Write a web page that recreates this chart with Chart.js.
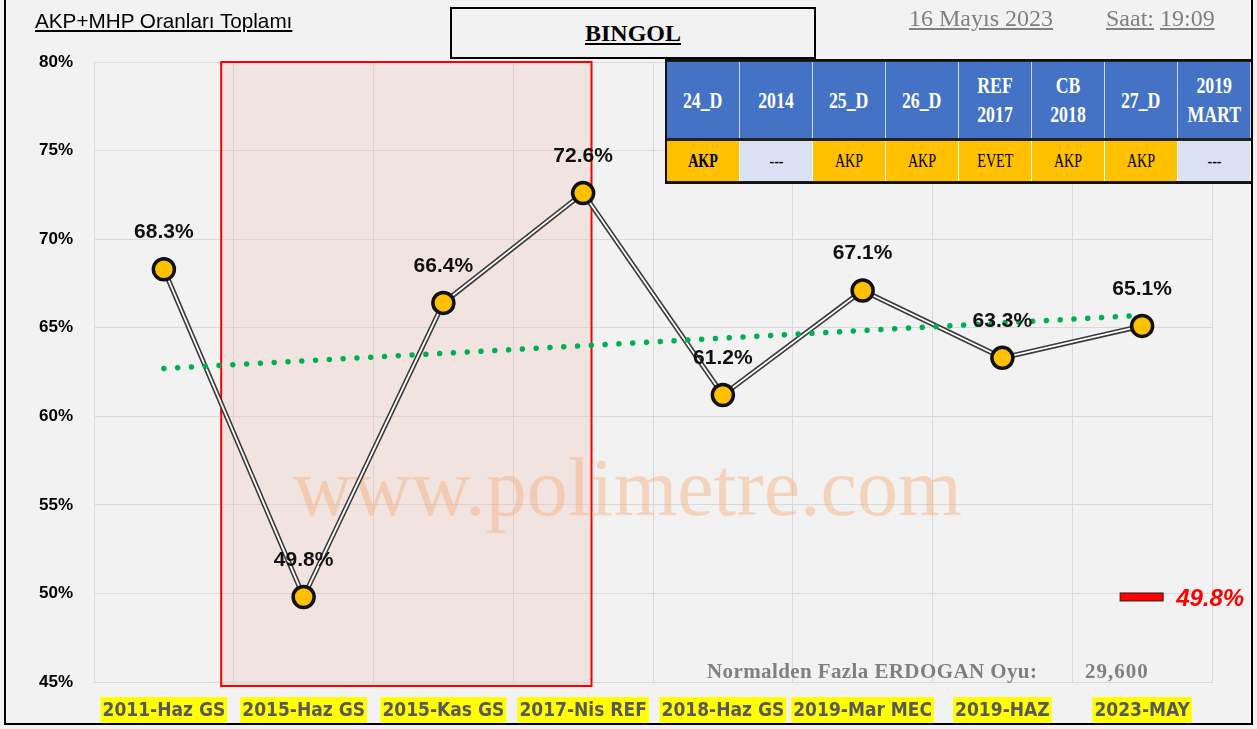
<!DOCTYPE html>
<html>
<head>
<meta charset="utf-8">
<script src="https://cdn.jsdelivr.net/npm/chart.js@4.4.0/dist/chart.umd.min.js"></script>
<style>
  body { margin: 0; background: #f2f2f2; }
  #wrap { position: relative; width: 1257px; height: 729px; overflow: hidden; background: #f2f2f2; }
  #frame { position: absolute; left: 4px; top: -2px; width: 1245px; height: 723px; border: 2px solid #000; pointer-events: none; }
  .ovl { position: absolute; white-space: nowrap; }
  #title { left: 35px; top: 9px; font: 20.7px "Liberation Sans", Arial, sans-serif; color: #000; text-decoration: underline; }
  #cityBox { left: 450px; top: 7px; width: 362px; height: 48px; border: 2px solid #000; background: #f2f2f2;
             font: bold 24px "Liberation Serif", "Times New Roman", serif; text-align: center; line-height: 48px; }
  #cityBox span { text-decoration: underline; }
  .gray { color: #808080; font-family: "Liberation Serif", "Times New Roman", serif; }
  #date { left: 909px; top: 5px; font-size: 24px; text-decoration: underline; }
  #saat { left: 1106px; top: 5px; font-size: 24px; }
  #saat u { text-decoration: underline; }
  #erdogan { left: 707px; top: 659px; font-size: 21px; font-weight: bold; letter-spacing: 0.4px; }
  #erdoganVal { left: 1085px; top: 659px; font-size: 21px; font-weight: bold; letter-spacing: 1px; }
  #tbl { position: absolute; left: 665px; top: 59px; width: 584px; height: 121px; border: 2px solid #111; background: #222; }
  .cell { position: absolute; display: flex; align-items: center; justify-content: center; text-align: center;
          font-family: "Liberation Serif", "Times New Roman", serif; box-sizing: border-box; }
  .cell span { display: inline-block; transform: scaleX(0.74); }
  .head { background: #4472c4; color: #fff; font-weight: bold; font-size: 24px; line-height: 29px; border-right: 1px solid #d0d8ec; }
  .row2 { color: #000; font-size: 19px; border-right: 1px solid #fff; }
</style>
</head>
<body>
<div id="wrap">
  <canvas id="akpChart" width="1257" height="729"></canvas>
  <div class="ovl" id="title">AKP+MHP Oranları Toplamı</div>
  <div class="ovl" id="cityBox"><span>BINGOL</span></div>
  <div class="ovl gray" id="date">16 Mayıs 2023</div>
  <div class="ovl gray" id="saat"><u>Saat:</u> <u>19:09</u></div>
  <div id="tbl"></div>
  <div class="ovl gray" id="erdogan">Normalden Fazla ERDOGAN Oyu:</div>
  <div class="ovl gray" id="erdoganVal">29,600</div>
  <div id="frame"></div>
</div>
<script>
const categories = ["2011-Haz GS", "2015-Haz GS", "2015-Kas GS", "2017-Nis REF", "2018-Haz GS", "2019-Mar MEC", "2019-HAZ", "2023-MAY"];
const akpMhp = [68.3, 49.8, 66.4, 72.6, 61.2, 67.1, 63.3, 65.1];
// dotted trend line, end values
const trend = [62.7, null, null, null, null, null, null, 65.7];
const yMin = 45, yMax = 80, yStep = 5;
// red box around 2015-2017 (in category index units)
const highlightSpan = [0.41, 3.06];
const minMark = 49.8;

const tblHead = ["24_D", "2014", "25_D", "26_D", "REF<br>2017", "CB<br>2018", "27_D", "2019<br>MART"];
const tblRow = ["AKP", "---", "AKP", "AKP", "EVET", "AKP", "AKP", "---"];

// table
const tbl = document.getElementById("tbl");
const colW = 584 / tblHead.length;
tblHead.forEach(function (t, i) {
  const h = document.createElement("div");
  h.className = "cell head";
  h.style.cssText = "left:" + (i * colW) + "px;top:1px;width:" + colW + "px;height:76px;";
  h.innerHTML = "<span>" + t + "</span>";
  tbl.appendChild(h);
  const r = document.createElement("div");
  r.className = "cell row2";
  const v = tblRow[i];
  r.style.cssText = "left:" + (i * colW) + "px;top:80px;width:" + colW + "px;height:40px;background:" +
    (v === "---" ? "#d9e1f2" : "#ffc000") + ";" + (i === 0 ? "font-weight:bold;" : "");
  r.innerHTML = "<span>" + v + "</span>";
  tbl.appendChild(r);
});

const decor = {
  id: "decor",
  beforeDatasetsDraw(chart) {
    const { ctx, scales: { x, y } } = chart;
    const x0 = x.getPixelForValue(highlightSpan[0]);
    const x1 = x.getPixelForValue(highlightSpan[1]);
    const y0 = y.getPixelForValue(yMax);
    const y1 = y.getPixelForValue(yMin) + 4;
    ctx.save();
    ctx.fillStyle = "rgba(236,190,180,0.28)";
    ctx.fillRect(x0, y0, x1 - x0, y1 - y0);
    ctx.strokeStyle = "#ff0000";
    ctx.lineWidth = 2;
    ctx.strokeRect(x0, y0, x1 - x0, y1 - y0);
    // watermark
    ctx.font = "82px 'Liberation Serif', 'Times New Roman', serif";
    ctx.fillStyle = "rgba(247,172,124,0.45)";
    ctx.textAlign = "left";
    ctx.textBaseline = "alphabetic";
    ctx.fillText("www.polimetre.com", x.left + 199, 515);
    ctx.restore();
  },
  afterDatasetsDraw(chart) {
    const { ctx, scales: { x, y } } = chart;
    const meta = chart.getDatasetMeta(3);
    ctx.save();
    ctx.font = "bold 21px 'Liberation Sans', Arial, sans-serif";
    ctx.fillStyle = "#111";
    ctx.textAlign = "center";
    ctx.textBaseline = "middle";
    meta.data.forEach(function (pt, i) {
      ctx.fillText(akpMhp[i].toFixed(1) + "%", pt.x, pt.y - 37);
    });
    // minimum marker on the right
    const last = x.getPixelForValue(categories.length - 1);
    const my = y.getPixelForValue(minMark);
    ctx.fillStyle = "#ff0000";
    ctx.fillRect(last - 22, my - 4, 43, 8);
    ctx.strokeStyle = "#222";
    ctx.lineWidth = 1;
    ctx.strokeRect(last - 22, my - 4, 43, 8);
    ctx.font = "italic bold 24px 'Liberation Sans', Arial, sans-serif";
    ctx.textAlign = "left";
    ctx.fillText(minMark.toFixed(1) + "%", last + 34, my + 2);
    ctx.restore();
  }
};

new Chart(document.getElementById("akpChart"), {
  type: "line",
  data: {
    labels: categories,
    datasets: [
      { data: akpMhp, borderColor: "#3a3a3a", borderWidth: 5, pointRadius: 0, order: 4 },
      { data: akpMhp, borderColor: "#ffffff", borderWidth: 1.8, pointRadius: 0, order: 3 },
      { data: trend, borderColor: "#00b050", borderWidth: 5.5, borderDash: [0.01, 13.8], borderCapStyle: "round",
        pointRadius: 0, spanGaps: true, order: 2 },
      { data: akpMhp, showLine: false, pointRadius: 10.5, pointBorderWidth: 3.5,
        pointBackgroundColor: "#ffc000", pointBorderColor: "#111", order: 1 }
    ]
  },
  options: {
    responsive: false,
    animation: false,
    devicePixelRatio: 1,
    layout: { padding: { top: 62, right: 45, left: 0, bottom: 0 } },
    plugins: { legend: { display: false }, tooltip: { enabled: false } },
    scales: {
      x: {
        offset: true,
        grid: { offset: true, color: "#d9d9d9", drawTicks: false },
        border: { color: "#d9d9d9" },
        ticks: {
          padding: 18,
          color: "#595959",
          font: { family: "'Liberation Sans Narrow', 'DejaVu Sans Condensed', sans-serif", size: 19, weight: "bold" },
          showLabelBackdrop: true,
          backdropColor: "#ffff00",
          backdropPadding: { top: 3, bottom: 2, left: 2, right: 2 },
          maxRotation: 0,
          autoSkip: false
        },
        afterFit(scale) { scale.height = 47; }
      },
      y: {
        min: yMin,
        max: yMax,
        grid: { color: "#d9d9d9", drawTicks: false },
        border: { color: "#d9d9d9" },
        ticks: {
          stepSize: yStep,
          padding: 21,
          color: "#000",
          font: { family: "'Liberation Sans', Arial, sans-serif", size: 17, weight: "bold" },
          callback: function (v) { return v + "%"; }
        },
        afterFit(scale) { scale.width = 94; }
      }
    }
  },
  plugins: [decor]
});
</script>
</body>
</html>
